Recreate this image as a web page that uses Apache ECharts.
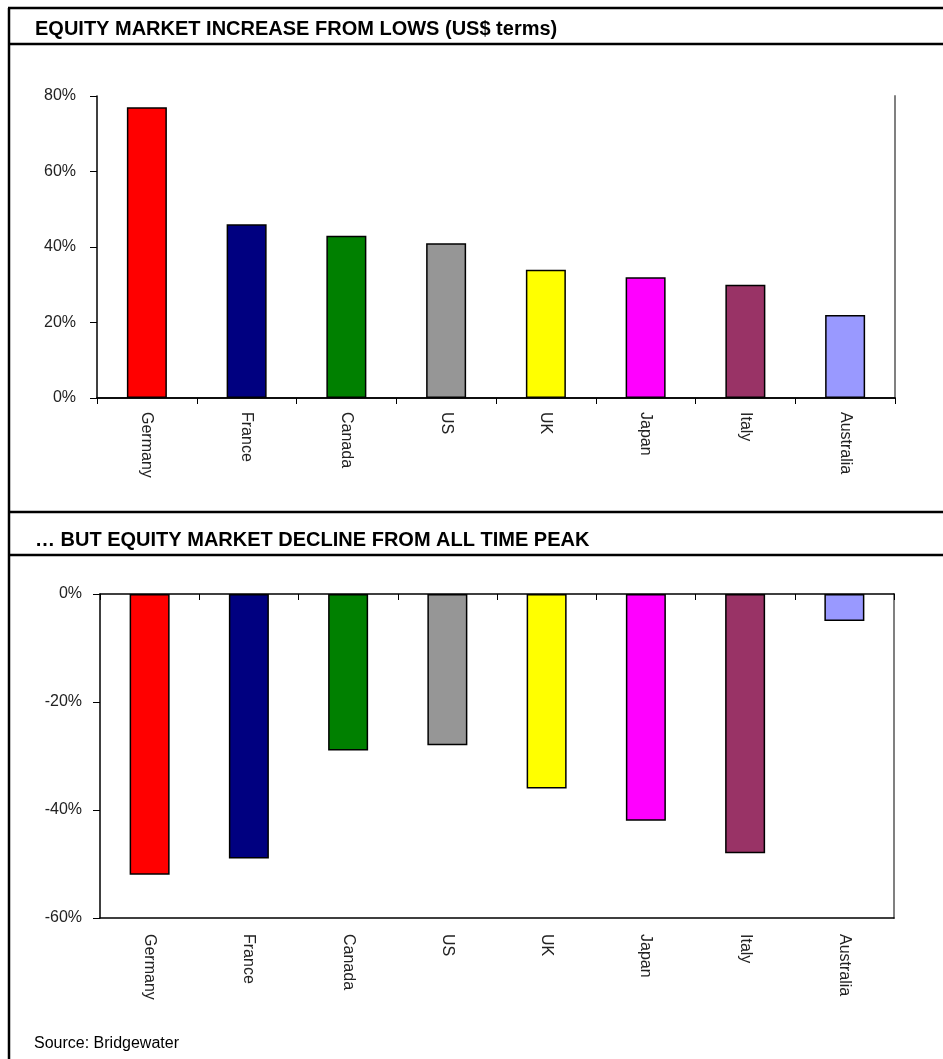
<!DOCTYPE html>
<html>
<head>
<meta charset="utf-8">
<script src="https://cdn.jsdelivr.net/npm/echarts@6/dist/echarts.min.js"></script>
<style>
  html, body { margin: 0; padding: 0; background: #fff; }
  #chart { width: 943px; height: 1059px; }
</style>
</head>
<body>
<div id="chart"></div>
<script>
var countries = ["Germany", "France", "Canada", "US", "UK", "Japan", "Italy", "Australia"];
var barColors = ["#FF0000", "#000080", "#008000", "#969696", "#FFFF00", "#FF00FF", "#993366", "#9999FF"];
var increaseFromLows = [77, 46, 43, 41, 34, 32, 30, 22];
var declineFromPeak = [-52, -49, -29, -28, -36, -42, -48, -5];

var chart = echarts.init(document.getElementById("chart"));

var font = "Liberation Sans, Arial, sans-serif";
var labelStyle = { fontFamily: font, fontSize: 16, color: "#222" };

function bars(values) {
  return values.map(function (v, i) {
    return {
      value: v,
      itemStyle: { color: barColors[i], borderColor: "#000", borderWidth: 1.5 },
    };
  });
}

function line(x1, y1, x2, y2, w) {
  return {
    type: "line",
    shape: { x1: x1, y1: y1, x2: x2, y2: y2 },
    style: { stroke: "#000", lineWidth: w || 2.5 },
    silent: true,
  };
}

var titleStyle = { fontFamily: font, fontSize: 20, fontWeight: "bold", color: "#000" };

var option = {
  animation: false,
  backgroundColor: "#fff",
  title: [
    {
      text: "EQUITY MARKET INCREASE FROM LOWS (US$ terms)",
      left: 30, top: 14,
      textStyle: titleStyle,
    },
    {
      text: "\u2026 BUT EQUITY MARKET DECLINE FROM ALL TIME PEAK",
      left: 30, top: 525,
      textStyle: titleStyle,
    },
    {
      text: "Source: Bridgewater",
      left: 29, top: 1031,
      textStyle: { fontFamily: font, fontSize: 16, fontWeight: "normal", color: "#000" },
    },
  ],
  graphic: [
    line(9, 8, 9, 1059),
    line(8, 8, 943, 8),
    line(8, 44, 943, 44),
    line(8, 512, 943, 512),
    line(8, 555, 943, 555),
  ],
  grid: [
    { left: 97, right: 48, top: 96, bottom: 661 },
    { left: 100, right: 49, top: 594, bottom: 141 },
  ],
  xAxis: [
    {
      type: "category", gridIndex: 0, data: countries, position: "bottom",
      axisLine: { lineStyle: { color: "#000", width: 1.5 } },
      axisTick: { show: true, length: 6, lineStyle: { color: "#000" } },
      axisLabel: Object.assign({ rotate: -90, margin: 14, interval: 0 }, labelStyle),
    },
    {
      type: "category", gridIndex: 0, data: countries, position: "top",
      axisLine: { lineStyle: { color: "#000", width: 1.5 } },
      axisTick: { show: false }, axisLabel: { show: false },
    },
    {
      type: "category", gridIndex: 1, data: countries, position: "bottom",
      axisLine: { onZero: false, lineStyle: { color: "#000", width: 1.5 } },
      axisTick: { show: false },
      axisLabel: Object.assign({ rotate: -90, margin: 16, interval: 0 }, labelStyle),
    },
    {
      type: "category", gridIndex: 1, data: countries, position: "top",
      axisLine: { lineStyle: { color: "#000", width: 1.5 } },
      axisTick: { show: true, inside: true, length: 6, lineStyle: { color: "#000" } },
      axisLabel: { show: false },
    },
  ],
  yAxis: [
    {
      type: "value", gridIndex: 0, min: 0, max: 80, interval: 20, position: "left",
      axisLine: { show: true, lineStyle: { color: "#000", width: 1.5 } },
      axisTick: { show: true, length: 7, lineStyle: { color: "#000" } },
      axisLabel: Object.assign({ formatter: "{value}%", margin: 21 }, labelStyle),
      splitLine: { show: false },
    },
    {
      type: "value", gridIndex: 0, min: 0, max: 80, interval: 20, position: "right",
      axisLine: { show: true, lineStyle: { color: "#808080", width: 2 } },
      axisTick: { show: false }, axisLabel: { show: false }, splitLine: { show: false },
    },
    {
      type: "value", gridIndex: 1, min: -60, max: 0, interval: 20, position: "left",
      axisLine: { show: true, lineStyle: { color: "#000", width: 1.5 } },
      axisTick: { show: true, length: 7, lineStyle: { color: "#000" } },
      axisLabel: Object.assign({ formatter: "{value}%", margin: 18 }, labelStyle),
      splitLine: { show: false },
    },
    {
      type: "value", gridIndex: 1, min: -60, max: 0, interval: 20, position: "right",
      axisLine: { show: true, lineStyle: { color: "#808080", width: 2 } },
      axisTick: { show: false }, axisLabel: { show: false }, splitLine: { show: false },
    },
  ],
  series: [
    {
      type: "bar", xAxisIndex: 0, yAxisIndex: 0, barWidth: 40,
      data: bars(increaseFromLows), z: 1,
    },
    {
      type: "bar", xAxisIndex: 2, yAxisIndex: 2, barWidth: 40,
      data: bars(declineFromPeak), z: 1,
    },
  ],
};

chart.setOption(option);
</script>
</body>
</html>
